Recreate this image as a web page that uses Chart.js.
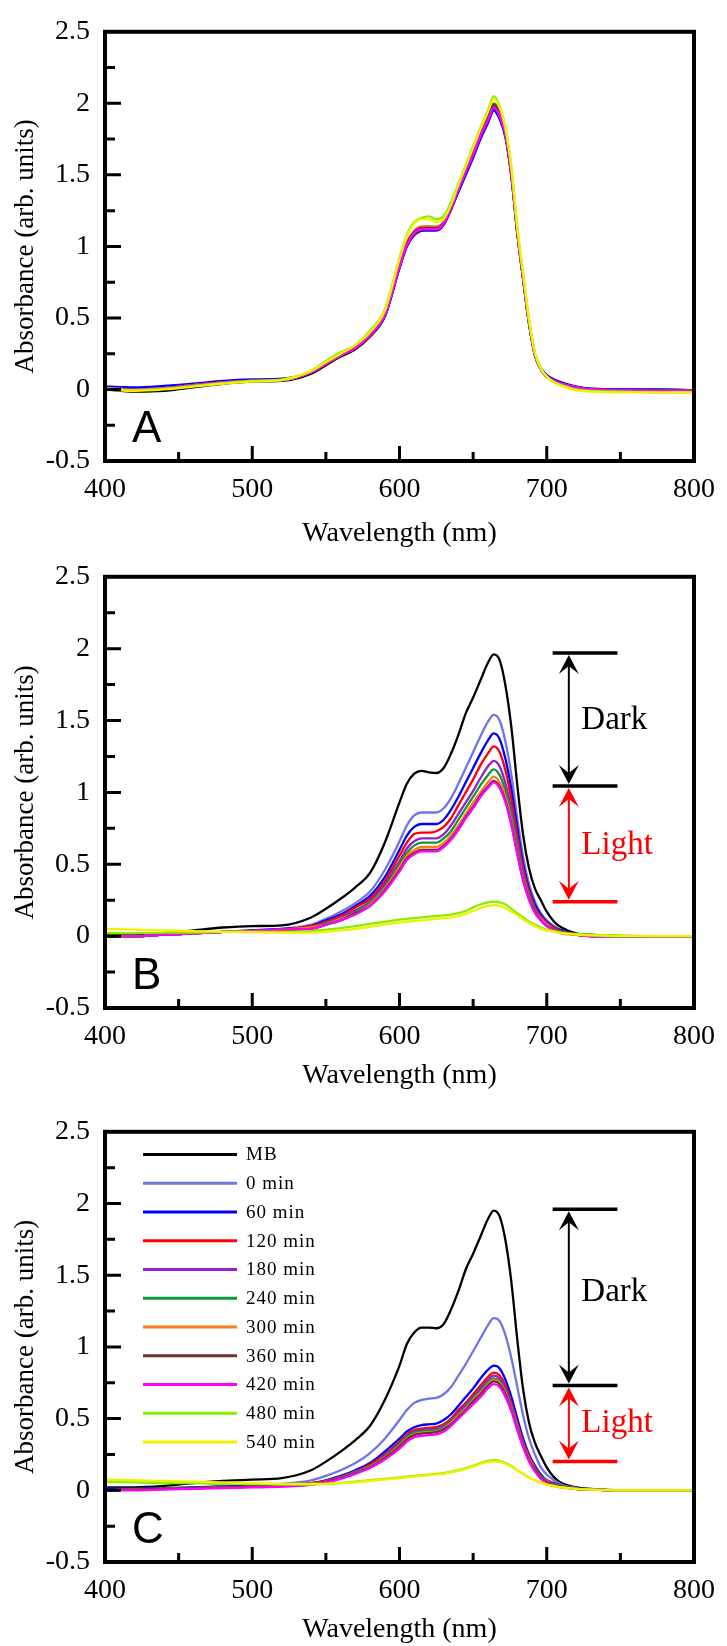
<!DOCTYPE html>
<html>
<head>
<meta charset="utf-8">
<script src="https://cdn.jsdelivr.net/npm/chart.js@4.4.0/dist/chart.umd.min.js"></script>
<style>
  html, body { margin: 0; padding: 0; background: #fff; }
  body { width: 727px; height: 1646px; position: relative; overflow: hidden; }
  canvas { position: absolute; left: 0; }
</style>
</head>
<body>
<canvas id="chartA" width="727" height="560" style="top:0px;width:727px;height:560px"></canvas>
<canvas id="chartB" width="727" height="560" style="top:545px;width:727px;height:560px"></canvas>
<canvas id="chartC" width="727" height="546" style="top:1100px;width:727px;height:546px"></canvas>
<script>
// wavelength grid (nm)
const wavelengths = [400, 420, 440, 460, 480, 500, 520,
  540, 550, 560, 570, 580, 590, 600,
  605, 610, 615, 620, 625, 630, 635, 640, 645, 650, 655, 660,
  664, 668, 672, 676, 680, 684, 688, 692, 696, 700,
  705, 710, 720, 730, 750, 775, 800];

const seriesNames = ['MB', '0 min', '60 min', '120 min', '180 min', '240 min',
  '300 min', '360 min', '420 min', '480 min', '540 min'];
const seriesColors = ['#000000', '#7075e6', '#0000ff', '#ff0000', '#9a1fcc', '#10993a',
  '#ff7a1a', '#6b3535', '#ff00ff', '#88ee00', '#f2f200'];

const xMajorTicks = [500, 600, 700];
const xMinorTicks = [450, 550, 650, 750];
const yMajorTicks = [0, 0.5, 1, 1.5, 2];
const yMinorTicks = [-0.25, 0.25, 0.75, 1.25, 1.75, 2.25];

// panel A
const aMB = [0.0, -0.015, -0.01, 0.015, 0.04, 0.055, 0.06,
  0.11, 0.17, 0.23, 0.28, 0.37, 0.51, 0.85,
  1.0, 1.08, 1.11, 1.12, 1.12, 1.16, 1.26, 1.39, 1.51, 1.63, 1.76, 1.87,
  1.96, 1.9, 1.77, 1.49, 1.09, 0.77, 0.46, 0.24, 0.14, 0.09,
  0.06, 0.04, 0.015, 0.0, -0.005, -0.01, -0.01];
const a0 = [0.02, 0.01, 0.02, 0.035, 0.055, 0.065, 0.07,
  0.12, 0.18, 0.24, 0.29, 0.38, 0.52, 0.86,
  1.01, 1.09, 1.12, 1.12, 1.12, 1.16, 1.27, 1.4, 1.52, 1.64, 1.77, 1.88,
  1.97, 1.91, 1.78, 1.5, 1.1, 0.78, 0.47, 0.25, 0.15, 0.1,
  0.065, 0.045, 0.02, 0.005, 0.0, 0.0, -0.005];
const a60 = [0.02, 0.015, 0.025, 0.04, 0.06, 0.07, 0.075,
  0.12, 0.18, 0.24, 0.29, 0.38, 0.51, 0.85,
  1.0, 1.08, 1.11, 1.11, 1.11, 1.15, 1.26, 1.38, 1.5, 1.62, 1.75, 1.86,
  1.95, 1.89, 1.76, 1.49, 1.1, 0.78, 0.47, 0.25, 0.15, 0.1,
  0.07, 0.05, 0.02, 0.005, 0.0, 0.0, -0.005];
const a120 = [0.01, 0.0, 0.01, 0.03, 0.05, 0.06, 0.065,
  0.12, 0.18, 0.24, 0.29, 0.38, 0.52, 0.86,
  1.01, 1.09, 1.12, 1.13, 1.12, 1.16, 1.27, 1.4, 1.53, 1.65, 1.78, 1.89,
  1.98, 1.92, 1.78, 1.5, 1.1, 0.77, 0.46, 0.24, 0.14, 0.09,
  0.06, 0.04, 0.015, 0.0, -0.005, -0.01, -0.01];
const a180 = [0.01, 0.0, 0.01, 0.03, 0.05, 0.06, 0.065,
  0.12, 0.18, 0.24, 0.29, 0.38, 0.52, 0.87,
  1.02, 1.1, 1.13, 1.13, 1.13, 1.17, 1.28, 1.41, 1.53, 1.65, 1.78, 1.89,
  1.99, 1.93, 1.79, 1.51, 1.1, 0.77, 0.46, 0.24, 0.14, 0.09,
  0.06, 0.04, 0.015, 0.0, -0.005, -0.01, -0.01];
const a240 = [0.01, 0.0, 0.01, 0.03, 0.05, 0.06, 0.065,
  0.12, 0.18, 0.24, 0.29, 0.38, 0.52, 0.87,
  1.02, 1.1, 1.13, 1.14, 1.13, 1.17, 1.28, 1.41, 1.54, 1.66, 1.79, 1.9,
  2.0, 1.94, 1.79, 1.51, 1.1, 0.77, 0.46, 0.24, 0.14, 0.09,
  0.06, 0.04, 0.015, 0.0, -0.005, -0.01, -0.01];
const a300 = [0.01, 0.0, 0.01, 0.03, 0.05, 0.06, 0.065,
  0.12, 0.18, 0.24, 0.3, 0.39, 0.53, 0.88,
  1.03, 1.11, 1.14, 1.14, 1.14, 1.17, 1.28, 1.41, 1.54, 1.66, 1.79, 1.9,
  1.99, 1.93, 1.79, 1.51, 1.1, 0.78, 0.46, 0.24, 0.14, 0.09,
  0.06, 0.04, 0.015, 0.0, -0.005, -0.01, -0.01];
const a360 = [0.01, 0.0, 0.01, 0.03, 0.05, 0.06, 0.065,
  0.12, 0.18, 0.24, 0.29, 0.38, 0.52, 0.87,
  1.02, 1.1, 1.13, 1.13, 1.13, 1.17, 1.28, 1.41, 1.53, 1.65, 1.78, 1.9,
  1.99, 1.93, 1.79, 1.5, 1.1, 0.77, 0.46, 0.24, 0.14, 0.09,
  0.06, 0.04, 0.015, 0.0, -0.005, -0.01, -0.01];
const a420 = [0.01, 0.0, 0.01, 0.03, 0.05, 0.06, 0.065,
  0.12, 0.18, 0.24, 0.29, 0.38, 0.52, 0.86,
  1.01, 1.09, 1.12, 1.12, 1.12, 1.16, 1.27, 1.4, 1.52, 1.64, 1.77, 1.88,
  1.97, 1.91, 1.78, 1.5, 1.1, 0.77, 0.46, 0.24, 0.14, 0.09,
  0.06, 0.04, 0.015, 0.0, -0.005, -0.01, -0.01];
const a480 = [0.01, -0.005, 0.005, 0.025, 0.045, 0.06, 0.07,
  0.13, 0.2, 0.26, 0.31, 0.41, 0.56, 0.92,
  1.08, 1.17, 1.2, 1.21, 1.19, 1.21, 1.31, 1.44, 1.57, 1.7, 1.83, 1.95,
  2.05, 1.98, 1.83, 1.55, 1.13, 0.8, 0.48, 0.25, 0.14, 0.09,
  0.05, 0.03, 0.0, -0.01, -0.015, -0.02, -0.02];
const a540 = [0.0, -0.01, 0.0, 0.02, 0.04, 0.055, 0.065,
  0.13, 0.19, 0.25, 0.31, 0.4, 0.55, 0.91,
  1.07, 1.16, 1.19, 1.19, 1.17, 1.19, 1.29, 1.43, 1.56, 1.69, 1.82, 1.94,
  2.03, 1.97, 1.82, 1.55, 1.14, 0.81, 0.49, 0.26, 0.15, 0.09,
  0.05, 0.025, -0.005, -0.015, -0.02, -0.02, -0.02];

// panel B
const bMB = [0.01, 0.01, 0.02, 0.04, 0.06, 0.07, 0.075,
  0.13, 0.19, 0.26, 0.34, 0.44, 0.65, 0.93,
  1.06, 1.13, 1.15, 1.14, 1.135, 1.17, 1.27, 1.4, 1.55, 1.66, 1.78, 1.9,
  1.96, 1.92, 1.74, 1.45, 1.05, 0.7, 0.47, 0.33, 0.25, 0.17,
  0.1, 0.06, 0.02, 0.01, 0.0, 0.0, 0.0];
const b0 = [0.0, 0.0, 0.01, 0.02, 0.03, 0.04, 0.05,
  0.08, 0.12, 0.17, 0.23, 0.31, 0.46, 0.66,
  0.77, 0.84, 0.86, 0.86, 0.86, 0.89, 0.96, 1.06, 1.17, 1.28, 1.39, 1.49,
  1.54, 1.5, 1.35, 1.12, 0.82, 0.55, 0.36, 0.24, 0.16, 0.11,
  0.07, 0.04, 0.01, 0.0, 0.0, 0.0, 0.0];
const b60 = [0.0, 0.0, 0.01, 0.02, 0.03, 0.04, 0.05,
  0.07, 0.11, 0.15, 0.21, 0.28, 0.41, 0.6,
  0.7, 0.76, 0.78, 0.78, 0.78, 0.81, 0.88, 0.97, 1.07, 1.17, 1.27, 1.36,
  1.41, 1.37, 1.23, 1.02, 0.75, 0.5, 0.33, 0.22, 0.15, 0.1,
  0.06, 0.04, 0.01, 0.0, 0.0, 0.0, 0.0];
const b120 = [0.0, 0.0, 0.01, 0.02, 0.03, 0.035, 0.045,
  0.07, 0.1, 0.14, 0.2, 0.26, 0.38, 0.56,
  0.65, 0.71, 0.72, 0.72, 0.73, 0.76, 0.82, 0.91, 1.0, 1.09, 1.19, 1.27,
  1.32, 1.28, 1.15, 0.95, 0.7, 0.47, 0.31, 0.2, 0.14, 0.09,
  0.06, 0.03, 0.01, 0.0, 0.0, 0.0, 0.0];
const b180 = [0.0, 0.0, 0.01, 0.02, 0.03, 0.035, 0.045,
  0.06, 0.09, 0.13, 0.18, 0.24, 0.36, 0.52,
  0.61, 0.66, 0.68, 0.68, 0.68, 0.71, 0.77, 0.85, 0.93, 1.01, 1.1, 1.18,
  1.22, 1.18, 1.06, 0.88, 0.65, 0.44, 0.29, 0.19, 0.13, 0.09,
  0.05, 0.03, 0.01, 0.0, 0.0, 0.0, 0.0];
const b240 = [0.0, 0.0, 0.01, 0.02, 0.03, 0.035, 0.045,
  0.06, 0.09, 0.12, 0.17, 0.23, 0.34, 0.5,
  0.58, 0.63, 0.65, 0.65, 0.65, 0.68, 0.73, 0.81, 0.89, 0.97, 1.05, 1.12,
  1.16, 1.12, 1.01, 0.84, 0.62, 0.42, 0.28, 0.18, 0.12, 0.08,
  0.05, 0.03, 0.01, 0.0, 0.0, 0.0, 0.0];
const b300 = [0.0, 0.0, 0.01, 0.02, 0.03, 0.035, 0.045,
  0.06, 0.08, 0.12, 0.16, 0.22, 0.33, 0.48,
  0.56, 0.6, 0.62, 0.62, 0.62, 0.65, 0.7, 0.77, 0.85, 0.93, 1.0, 1.07,
  1.11, 1.07, 0.97, 0.8, 0.59, 0.4, 0.27, 0.17, 0.12, 0.08,
  0.05, 0.03, 0.01, 0.0, 0.0, 0.0, 0.0];
const b360 = [0.0, 0.0, 0.01, 0.02, 0.03, 0.035, 0.045,
  0.05, 0.08, 0.11, 0.16, 0.21, 0.32, 0.46,
  0.54, 0.58, 0.6, 0.6, 0.6, 0.63, 0.68, 0.75, 0.83, 0.9, 0.98, 1.04,
  1.08, 1.04, 0.94, 0.78, 0.58, 0.39, 0.26, 0.17, 0.11, 0.07,
  0.05, 0.03, 0.01, 0.0, 0.0, 0.0, 0.0];
const b420 = [0.0, 0.0, 0.01, 0.02, 0.03, 0.035, 0.045,
  0.05, 0.08, 0.11, 0.15, 0.21, 0.31, 0.45,
  0.53, 0.57, 0.59, 0.59, 0.59, 0.62, 0.67, 0.74, 0.82, 0.89, 0.97, 1.03,
  1.07, 1.03, 0.93, 0.77, 0.57, 0.38, 0.25, 0.16, 0.11, 0.07,
  0.04, 0.02, 0.01, 0.0, 0.0, 0.0, 0.0];
const b480 = [0.02, 0.02, 0.025, 0.025, 0.03, 0.03, 0.03,
  0.035, 0.045, 0.055, 0.07, 0.085, 0.1, 0.115,
  0.12, 0.125, 0.13, 0.135, 0.14, 0.145, 0.15, 0.16, 0.175, 0.2, 0.22, 0.235,
  0.24, 0.235, 0.22, 0.19, 0.16, 0.13, 0.1, 0.08, 0.06, 0.045,
  0.035, 0.025, 0.015, 0.01, 0.005, 0.0, 0.0];
const b540 = [0.05, 0.045, 0.04, 0.035, 0.03, 0.028, 0.025,
  0.025, 0.03, 0.04, 0.05, 0.065, 0.08, 0.095,
  0.1, 0.105, 0.11, 0.115, 0.12, 0.125, 0.13, 0.14, 0.155, 0.175, 0.195, 0.21,
  0.215, 0.21, 0.195, 0.17, 0.145, 0.115, 0.09, 0.07, 0.05, 0.04,
  0.03, 0.02, 0.01, 0.005, 0.0, 0.0, 0.0];

// panel C
const cMB = [0.02, 0.02, 0.03, 0.05, 0.065, 0.075, 0.085,
  0.14, 0.2, 0.27, 0.35, 0.45, 0.63, 0.87,
  1.02, 1.1, 1.135, 1.135, 1.13, 1.16, 1.26, 1.39, 1.54, 1.65, 1.77, 1.89,
  1.95, 1.91, 1.74, 1.45, 1.05, 0.7, 0.47, 0.33, 0.24, 0.16,
  0.09, 0.05, 0.02, 0.01, 0.0, 0.0, 0.0];
const c0 = [0.01, 0.01, 0.015, 0.02, 0.03, 0.035, 0.045,
  0.07, 0.1, 0.14, 0.19, 0.26, 0.36, 0.49,
  0.56, 0.61, 0.63, 0.64, 0.645, 0.67, 0.72, 0.8, 0.88, 0.97, 1.06, 1.15,
  1.2, 1.18, 1.08, 0.92, 0.72, 0.52, 0.36, 0.25, 0.16, 0.11,
  0.07, 0.04, 0.015, 0.005, 0.0, 0.0, 0.0];
const c60 = [0.01, 0.01, 0.015, 0.02, 0.025, 0.03, 0.035,
  0.05, 0.07, 0.1, 0.14, 0.19, 0.27, 0.36,
  0.41, 0.44, 0.455, 0.46, 0.465, 0.49, 0.53, 0.59, 0.65, 0.71, 0.78, 0.84,
  0.87, 0.85, 0.77, 0.65, 0.5, 0.36, 0.25, 0.17, 0.11, 0.07,
  0.05, 0.03, 0.01, 0.005, 0.0, 0.0, 0.0];
const c120 = [0.0, 0.005, 0.01, 0.015, 0.02, 0.025, 0.035,
  0.05, 0.065, 0.095, 0.13, 0.18, 0.25, 0.34,
  0.39, 0.42, 0.43, 0.435, 0.44, 0.46, 0.5, 0.56, 0.61, 0.67, 0.73, 0.79,
  0.82, 0.8, 0.73, 0.61, 0.47, 0.34, 0.24, 0.16, 0.1, 0.07,
  0.045, 0.03, 0.01, 0.005, 0.0, 0.0, 0.0];
const c180 = [0.0, 0.005, 0.01, 0.015, 0.02, 0.025, 0.035,
  0.045, 0.065, 0.09, 0.13, 0.17, 0.24, 0.33,
  0.38, 0.41, 0.42, 0.425, 0.43, 0.45, 0.49, 0.54, 0.6, 0.65, 0.71, 0.77,
  0.8, 0.78, 0.71, 0.6, 0.46, 0.33, 0.23, 0.15, 0.1, 0.07,
  0.045, 0.03, 0.01, 0.005, 0.0, 0.0, 0.0];
const c240 = [0.0, 0.005, 0.01, 0.015, 0.02, 0.025, 0.03,
  0.045, 0.06, 0.09, 0.125, 0.17, 0.235, 0.32,
  0.37, 0.4, 0.41, 0.415, 0.42, 0.44, 0.48, 0.53, 0.58, 0.64, 0.69, 0.75,
  0.78, 0.76, 0.69, 0.58, 0.45, 0.32, 0.22, 0.15, 0.1, 0.065,
  0.04, 0.03, 0.01, 0.005, 0.0, 0.0, 0.0];
const c300 = [0.0, 0.005, 0.01, 0.015, 0.02, 0.025, 0.03,
  0.045, 0.06, 0.085, 0.12, 0.165, 0.23, 0.31,
  0.36, 0.39, 0.4, 0.405, 0.41, 0.43, 0.47, 0.52, 0.57, 0.63, 0.68, 0.74,
  0.77, 0.75, 0.68, 0.57, 0.44, 0.31, 0.22, 0.14, 0.09, 0.065,
  0.04, 0.025, 0.01, 0.005, 0.0, 0.0, 0.0];
const c360 = [0.0, 0.005, 0.01, 0.015, 0.02, 0.025, 0.03,
  0.04, 0.06, 0.085, 0.12, 0.16, 0.225, 0.305,
  0.355, 0.385, 0.395, 0.4, 0.405, 0.425, 0.46, 0.51, 0.56, 0.62, 0.67, 0.73,
  0.76, 0.74, 0.67, 0.56, 0.43, 0.31, 0.21, 0.14, 0.09, 0.06,
  0.04, 0.025, 0.01, 0.005, 0.0, 0.0, 0.0];
const c420 = [0.0, 0.0, 0.005, 0.01, 0.015, 0.02, 0.025,
  0.04, 0.055, 0.08, 0.115, 0.155, 0.215, 0.29,
  0.34, 0.37, 0.38, 0.385, 0.39, 0.41, 0.45, 0.5, 0.55, 0.6, 0.65, 0.71,
  0.74, 0.72, 0.65, 0.55, 0.42, 0.3, 0.2, 0.13, 0.08, 0.05,
  0.03, 0.02, 0.01, 0.005, 0.0, 0.0, 0.0];
const c480 = [0.06, 0.055, 0.05, 0.05, 0.045, 0.045, 0.04,
  0.04, 0.045, 0.05, 0.06, 0.07, 0.08, 0.09,
  0.095, 0.1, 0.105, 0.11, 0.115, 0.12, 0.13, 0.14, 0.155, 0.17, 0.19, 0.205,
  0.21, 0.205, 0.19, 0.17, 0.14, 0.115, 0.09, 0.07, 0.055, 0.04,
  0.03, 0.02, 0.01, 0.005, 0.0, 0.0, 0.0];
const c540 = [0.075, 0.07, 0.065, 0.06, 0.055, 0.05, 0.045,
  0.045, 0.045, 0.05, 0.055, 0.065, 0.075, 0.085,
  0.09, 0.095, 0.1, 0.105, 0.11, 0.115, 0.125, 0.135, 0.15, 0.165, 0.185, 0.198,
  0.2, 0.198, 0.185, 0.165, 0.14, 0.115, 0.09, 0.07, 0.055, 0.04,
  0.03, 0.02, 0.01, 0.005, 0.0, 0.0, 0.0];

// Dark / Light annotation: bar ends and shaft (nm), levels (absorbance)
const arrowBarX = [704, 748];
const arrowShaftX = 715;
const arrowTextX = 723.5;
const arrowLevelsB = [1.97, 1.045, 0.24];
const arrowLevelsC = [1.96, 0.73, 0.2];
const arrowTextYB = [1.5, 0.63];
const arrowTextYC = [1.38, 0.47];

const serif = 'Liberation Serif';

function line(ctx, x1, y1, x2, y2) {
  ctx.beginPath();
  ctx.moveTo(x1, y1);
  ctx.lineTo(x2, y2);
  ctx.stroke();
}

function head(ctx, x, tipY, s) {
  ctx.beginPath();
  ctx.moveTo(x, tipY);
  ctx.lineTo(x - 10, tipY + s * 19);
  ctx.lineTo(x, tipY + s * 11);
  ctx.lineTo(x + 10, tipY + s * 19);
  ctx.closePath();
  ctx.fill();
}

function drawArrows(ctx, x, y, levels, textYs) {
  const x1 = x.getPixelForValue(arrowBarX[0]);
  const x2 = x.getPixelForValue(arrowBarX[1]);
  const xs = x.getPixelForValue(arrowShaftX);
  const yTop = y.getPixelForValue(levels[0]);
  const yMid = y.getPixelForValue(levels[1]);
  const yLow = y.getPixelForValue(levels[2]);

  ctx.lineWidth = 3.5;
  ctx.strokeStyle = '#000';
  line(ctx, x1, yTop, x2, yTop);
  line(ctx, x1, yMid, x2, yMid);
  ctx.strokeStyle = '#ff0000';
  line(ctx, x1, yLow, x2, yLow);

  ctx.lineWidth = 2;
  ctx.strokeStyle = ctx.fillStyle = '#000';
  line(ctx, xs, yTop + 10, xs, yMid - 10);
  head(ctx, xs, yTop + 2, 1);
  head(ctx, xs, yMid - 2, -1);
  ctx.strokeStyle = ctx.fillStyle = '#ff0000';
  line(ctx, xs, yMid + 10, xs, yLow - 10);
  head(ctx, xs, yMid + 2, 1);
  head(ctx, xs, yLow - 2, -1);

  ctx.font = '33px "' + serif + '"';
  ctx.textAlign = 'left';
  ctx.textBaseline = 'middle';
  const tx = x.getPixelForValue(arrowTextX);
  ctx.fillStyle = '#000';
  ctx.fillText('Dark', tx, y.getPixelForValue(textYs[0]));
  ctx.fillStyle = '#ff0000';
  ctx.fillText('Light', tx, y.getPixelForValue(textYs[1]));
}

function drawLegend(ctx, canvasTop) {
  ctx.font = '19px "' + serif + '"';
  ctx.letterSpacing = '1px';
  ctx.textAlign = 'left';
  ctx.textBaseline = 'middle';
  seriesNames.forEach((name, i) => {
    const yy = 1154.5 + i * 28.75 - canvasTop;
    ctx.strokeStyle = seriesColors[i];
    ctx.lineWidth = 3;
    line(ctx, 143, yy, 237, yy);
    ctx.fillStyle = '#000';
    ctx.fillText(name, 246, yy + 1);
  });
  ctx.letterSpacing = '0px';
}

const framePlugin = {
  id: 'frame',
  afterDatasetsDraw(chart, args, opts) {
    const { ctx, chartArea: a, scales: { x, y } } = chart;
    ctx.save();
    ctx.strokeStyle = '#000';
    ctx.lineWidth = 3;
    ctx.beginPath();
    xMajorTicks.forEach(v => {
      const px = x.getPixelForValue(v);
      ctx.moveTo(px, a.bottom); ctx.lineTo(px, a.bottom - 15);
    });
    xMinorTicks.forEach(v => {
      const px = x.getPixelForValue(v);
      ctx.moveTo(px, a.bottom); ctx.lineTo(px, a.bottom - 9);
    });
    yMajorTicks.forEach(v => {
      const py = y.getPixelForValue(v);
      ctx.moveTo(a.left, py); ctx.lineTo(a.left + 16, py);
    });
    yMinorTicks.forEach(v => {
      const py = y.getPixelForValue(v);
      ctx.moveTo(a.left, py); ctx.lineTo(a.left + 10, py);
    });
    ctx.stroke();
    ctx.lineWidth = 4;
    ctx.strokeRect(a.left, a.top, a.right - a.left, a.bottom - a.top);

    ctx.fillStyle = '#000';
    ctx.font = '44px "Liberation Sans"';
    ctx.textAlign = 'left';
    ctx.textBaseline = 'alphabetic';
    ctx.fillText(opts.letter, 132, a.bottom - 19);

    if (opts.levels) drawArrows(ctx, x, y, opts.levels, opts.textYs);
    if (opts.legend) drawLegend(ctx, opts.canvasTop);
    ctx.restore();
  }
};

function makeChart(id, series, p) {
  const canvas = document.getElementById(id);
  const datasets = series.map((vals, i) => ({
    label: seriesNames[i],
    data: wavelengths.map((w, k) => ({ x: w, y: vals[k] })),
    borderColor: seriesColors[i],
    borderWidth: 2.3,
    pointRadius: 0,
    fill: false,
    cubicInterpolationMode: 'monotone',
    order: series.length - i
  }));
  const tickFont = { family: serif, size: 28 };
  new Chart(canvas, {
    type: 'line',
    data: { datasets },
    plugins: [framePlugin],
    options: {
      responsive: false,
      animation: false,
      events: [],
      layout: { padding: { top: p.areaTop, right: 25, left: 0, bottom: 0 } },
      plugins: {
        legend: { display: false },
        tooltip: { enabled: false },
        frame: p
      },
      scales: {
        x: {
          type: 'linear', min: 400, max: 800,
          ticks: { stepSize: 100, padding: 12, color: '#000', font: tickFont, maxRotation: 0, autoSkip: false },
          grid: { display: false, drawTicks: false },
          border: { display: false },
          title: { display: true, text: 'Wavelength (nm)', color: '#000', font: tickFont, padding: { top: 0, bottom: p.titlePad } },
          afterFit: s => { s.height = p.axisHeight; }
        },
        y: {
          type: 'linear', min: -0.5, max: 2.5,
          ticks: { stepSize: 0.5, padding: 15, color: '#000', font: tickFont, callback: v => String(v) },
          grid: { display: false, drawTicks: false },
          border: { display: false },
          title: { display: true, text: 'Absorbance (arb. units)', color: '#000', font: { family: serif, size: 27 }, padding: { top: 10, bottom: 0 } },
          afterFit: s => { s.width = 105; }
        }
      }
    }
  });
}

makeChart('chartA', [aMB, a0, a60, a120, a180, a240, a300, a360, a420, a480, a540],
  { letter: 'A', areaTop: 25, axisHeight: 99, titlePad: 10 });
makeChart('chartB', [bMB, b0, b60, b120, b180, b240, b300, b360, b420, b480, b540],
  { letter: 'B', areaTop: 24, axisHeight: 97, titlePad: 13, levels: arrowLevelsB, textYs: arrowTextYB });
makeChart('chartC', [cMB, c0, c60, c120, c180, c240, c300, c360, c420, c480, c540],
  { letter: 'C', areaTop: 24, axisHeight: 84, titlePad: 0, levels: arrowLevelsC, textYs: arrowTextYC, legend: true, canvasTop: 1100 });
</script>
</body>
</html>
